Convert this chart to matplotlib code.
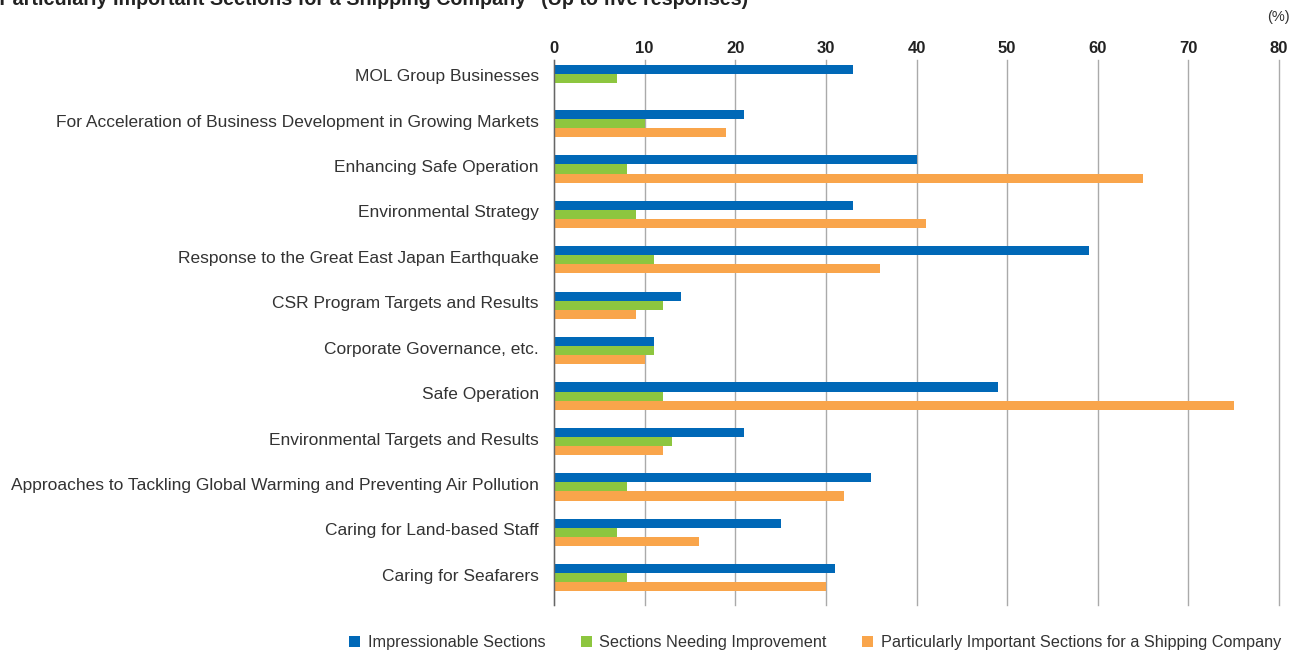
import matplotlib
matplotlib.use("Agg")
import matplotlib.pyplot as plt
from matplotlib.patches import Patch
import matplotlib.transforms as mtransforms
import numpy as np

plt.rcParams['font.family'] = ['Liberation Sans', 'DejaVu Sans']

categories = [
    "MOL Group Businesses",
    "For Acceleration of Business Development in Growing Markets",
    "Enhancing Safe Operation",
    "Environmental Strategy",
    "Response to the Great East Japan Earthquake",
    "CSR Program Targets and Results",
    "Corporate Governance, etc.",
    "Safe Operation",
    "Environmental Targets and Results",
    "Approaches to Tackling Global Warming and Preventing Air Pollution",
    "Caring for Land-based Staff",
    "Caring for Seafarers",
]
impressionable = [33, 21, 40, 33, 59, 14, 11, 49, 21, 35, 25, 31]
needing_improvement = [7, 10, 8, 9, 11, 12, 11, 12, 13, 8, 7, 8]
particularly_important = [0, 19, 65, 41, 36, 9, 10, 75, 12, 32, 16, 30]
series_names = [
    "Impressionable Sections",
    "Sections Needing Improvement",
    "Particularly Important Sections for a Shipping Company",
]
x_ticks = [0, 10, 20, 30, 40, 50, 60, 70, 80]

colors = ["#0068b7", "#8dc63f", "#f9a54b"]
text_color = "#333333"

fig = plt.figure(figsize=(13, 6.5), dpi=100)
ax = fig.add_axes([554 / 1300, 1 - 605 / 650, (1279 - 554) / 1300, (605 - 60) / 650])

y = np.arange(len(categories))
h = 0.2
for vals, off, c in zip([impressionable, needing_improvement, particularly_important],
                        [-h, 0, h], colors):
    ax.barh(y + off, vals, height=h, color=c, zorder=3, linewidth=0)

ax.set_xlim(0, 80)
ax.set_ylim(11.6, -0.4)
ax.set_xticks(x_ticks)
ax.xaxis.tick_top()
ax.tick_params(axis='x', length=0, pad=3, labelsize=12, labelcolor="#222222")
for lbl in ax.get_xticklabels():
    lbl.set_fontweight('bold')
ax.set_yticks(y)
ax.set_yticklabels(categories, fontsize=12.5, color=text_color)
ax.tick_params(axis='y', length=0, pad=11)
# nudge category labels up a little relative to the bar group centre
shift = mtransforms.ScaledTranslation(0, 3 / 100, fig.dpi_scale_trans)
for lbl in ax.get_yticklabels():
    lbl.set_transform(lbl.get_transform() + shift)

ax.grid(axis='x', color="#aaaaaa", linewidth=1, zorder=0)
for gl in ax.get_xgridlines():
    gl.set_clip_on(False)
for s in ['top', 'right', 'bottom']:
    ax.spines[s].set_visible(False)
ax.spines['left'].set_color("#666666")
ax.spines['left'].set_linewidth(1)
ax.spines['left'].set_zorder(4)

fig.text(1290 / 1300, 1 - 17 / 650, "(%)", ha='right', va='center', fontsize=10.5, color=text_color)
fig.text(748 / 1300, 1 - 5 / 650,
         '"Particularly Important Sections for a Shipping Company" (Up to five responses)',
         ha='right', va='baseline', fontsize=14.2, fontweight='bold', color="#222222")

handles = [Patch(facecolor=c, edgecolor='none') for c in colors]
fig.legend(handles, series_names, loc='center right', bbox_to_anchor=(1281 / 1300, 1 - 643 / 650),
           ncol=3, frameon=False, fontsize=11.7, handlelength=0.68, handleheight=0.68,
           handletextpad=0.45, columnspacing=2.2, labelcolor=text_color, borderpad=0,
           borderaxespad=0)

fig.savefig("out.png", dpi=100)
